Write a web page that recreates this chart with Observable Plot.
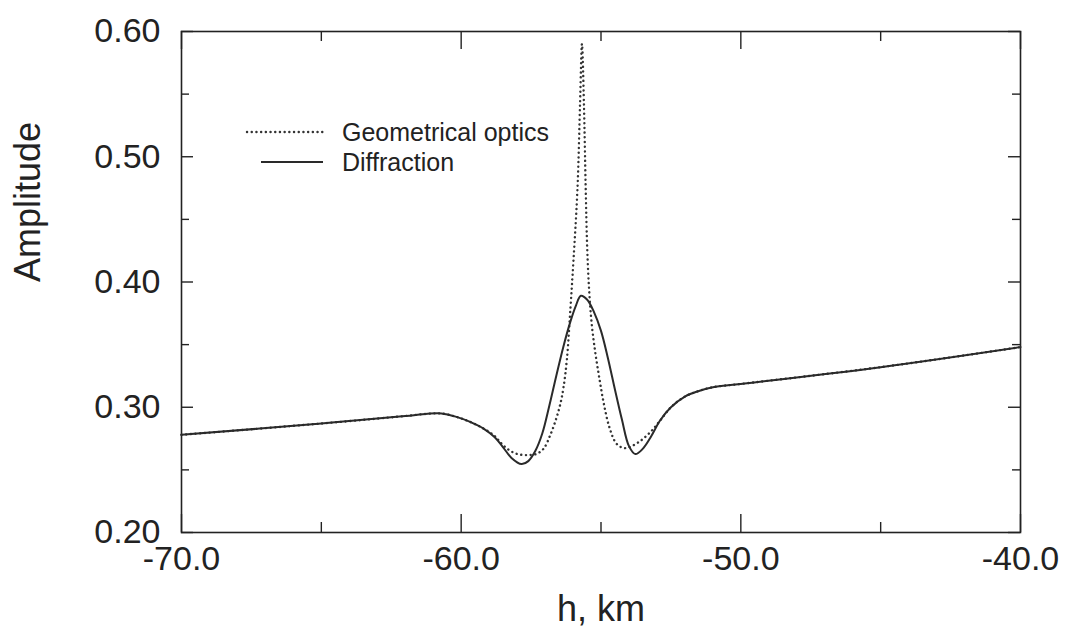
<!DOCTYPE html>
<html>
<head>
<meta charset="utf-8">
<script src="https://cdn.jsdelivr.net/npm/d3@7"></script>
<script src="https://cdn.jsdelivr.net/npm/@observablehq/plot@0.6"></script>
<style>
  html, body { margin: 0; padding: 0; background: #fff; }
  #chart svg { display: block; }
</style>
</head>
<body>
<div id="chart"></div>
<script>
// Wave amplitude versus height h (km): diffraction solution
const hDiffraction = [-70.0, -65.0, -62.0, -61.2, -60.7, -60.2, -59.7, -59.2, -58.8, -58.5,
  -58.2, -57.84, -57.6, -57.35, -57.1, -56.85, -56.6, -56.35, -56.1, -55.9,
  -55.72, -55.5, -55.25, -55.0, -54.75, -54.5, -54.25, -54.0, -53.77, -53.5,
  -53.2, -52.9, -52.5, -52.0, -51.5, -51.0, -50.0, -45.0, -40.0];
const ampDiffraction = [0.278, 0.287, 0.293, 0.2948, 0.295, 0.2925, 0.2885, 0.283, 0.276, 0.268,
  0.2595, 0.2546, 0.257, 0.265, 0.279, 0.301, 0.325, 0.348, 0.368, 0.381,
  0.389, 0.386, 0.376, 0.361, 0.339, 0.314, 0.290, 0.269, 0.2626, 0.267,
  0.277, 0.289, 0.300, 0.3085, 0.313, 0.316, 0.3186, 0.332, 0.348];

// Geometrical optics approximation
const hGeometric = [-70.0, -65.0, -62.0, -61.2, -60.7, -60.2, -59.7, -59.2, -58.8, -58.6,
  -58.3, -58.0, -57.63, -57.3, -57.05, -56.81, -56.6, -56.45, -56.34, -56.22,
  -56.09, -55.985, -55.84, -55.75, -55.68, -55.61, -55.55, -55.49, -55.42, -55.33,
  -55.2, -55.05, -54.9, -54.7, -54.45, -54.2, -54.0, -53.6, -53.2, -52.9,
  -52.5, -52.0, -51.5, -51.0, -50.0, -45.0, -40.0];
const ampGeometric = [0.278, 0.287, 0.293, 0.2948, 0.295, 0.2925, 0.2885, 0.283, 0.277, 0.272,
  0.266, 0.2627, 0.2618, 0.2628, 0.267, 0.278, 0.291, 0.303, 0.316, 0.338,
  0.380, 0.417, 0.475, 0.542, 0.590, 0.542, 0.478, 0.425, 0.392, 0.366,
  0.343, 0.322, 0.303, 0.284, 0.271, 0.2675, 0.268, 0.273, 0.281, 0.289,
  0.300, 0.3085, 0.313, 0.316, 0.3186, 0.332, 0.348];

// Axis ticks
const xTicks = [-70, -60, -50, -40];
const xMinorTicks = [-65, -55, -45];
const yTicks = [0.2, 0.3, 0.4, 0.5, 0.6];
const yMinorTicks = [0.25, 0.35, 0.45, 0.55];
const seriesNames = ["Geometrical optics", "Diffraction"];

const W = 1072, H = 640;
const mL = 181, mR = 52, mT = 31, mB = 108;
const innerW = W - mL - mR, innerH = H - mT - mB;
const font = '"Liberation Sans", Arial, Helvetica, sans-serif';
const ink = "#222";
const dotted = {stroke: "#333", strokeWidth: 2.4, strokeDasharray: "0.1,4.6", strokeLinecap: "round"};
const solid = {stroke: "#2a2a2a", strokeWidth: 2};

const diffraction = hDiffraction.map((h, i) => ({h, amp: ampDiffraction[i]}));
const geometric = hGeometric.map((h, i) => ({h, amp: ampGeometric[i]}));

const tickStyle = {stroke: ink, strokeWidth: 1.4};

const chart = Plot.plot({
  width: W,
  height: H,
  marginLeft: mL,
  marginRight: mR,
  marginTop: mT,
  marginBottom: mB,
  style: {fontFamily: font, color: ink, background: "#fff"},
  x: {domain: [-70, -40], label: null},
  y: {domain: [0.2, 0.6], label: null},
  marks: [
    Plot.frame({stroke: ink, strokeWidth: 1.6}),
    // inward ticks: bottom and top edges
    Plot.tickX(xTicks, {x: d => d, insetTop: innerH - 18, ...tickStyle}),
    Plot.tickX(xMinorTicks, {x: d => d, insetTop: innerH - 10, ...tickStyle}),
    Plot.tickX(xTicks, {x: d => d, insetBottom: innerH - 18, ...tickStyle}),
    Plot.tickX(xMinorTicks, {x: d => d, insetBottom: innerH - 10, ...tickStyle}),
    // inward ticks: left and right edges
    Plot.tickY(yTicks, {y: d => d, insetRight: innerW - 12, ...tickStyle}),
    Plot.tickY(yMinorTicks, {y: d => d, insetRight: innerW - 8, ...tickStyle}),
    Plot.tickY(yTicks, {y: d => d, insetLeft: innerW - 12, ...tickStyle}),
    Plot.tickY(yMinorTicks, {y: d => d, insetLeft: innerW - 8, ...tickStyle}),
    Plot.axisX(xTicks, {tickSize: 0, tickPadding: 13, fontSize: 34, tickFormat: d => d.toFixed(1)}),
    Plot.axisY(yTicks, {tickSize: 0, tickPadding: 21, fontSize: 34, tickFormat: d => d.toFixed(2)}),
    Plot.line(geometric, {x: "h", y: "amp", curve: "catmull-rom", ...dotted}),
    Plot.line(diffraction, {x: "h", y: "amp", curve: "catmull-rom", ...solid}),
    Plot.text(["Amplitude"], {frameAnchor: "left", dx: -153, rotate: -90, fontSize: 36, fill: ink}),
    Plot.text(["h, km"], {frameAnchor: "bottom", dy: 88, fontSize: 36, fill: ink})
  ]
});

// Legend in the upper-left corner of the plot area
const svg = d3.select(chart);
const legend = svg.append("g")
  .attr("font-family", font)
  .attr("font-size", 25)
  .attr("fill", ink)
  .attr("text-anchor", "start");
const legendRows = [
  {y: 132, x1: 247, style: dotted},
  {y: 162, x1: 261, style: solid}
];
legendRows.forEach((row, i) => {
  legend.append("line")
    .attr("x1", row.x1).attr("x2", 323).attr("y1", row.y).attr("y2", row.y)
    .attr("stroke", row.style.stroke)
    .attr("stroke-width", row.style.strokeWidth)
    .attr("stroke-linecap", row.style.strokeLinecap || "butt")
    .attr("stroke-dasharray", row.style.strokeDasharray || null);
  legend.append("text")
    .attr("x", 342).attr("y", row.y).attr("dy", "0.35em")
    .text(seriesNames[i]);
});

document.getElementById("chart").append(chart);
</script>
</body>
</html>
